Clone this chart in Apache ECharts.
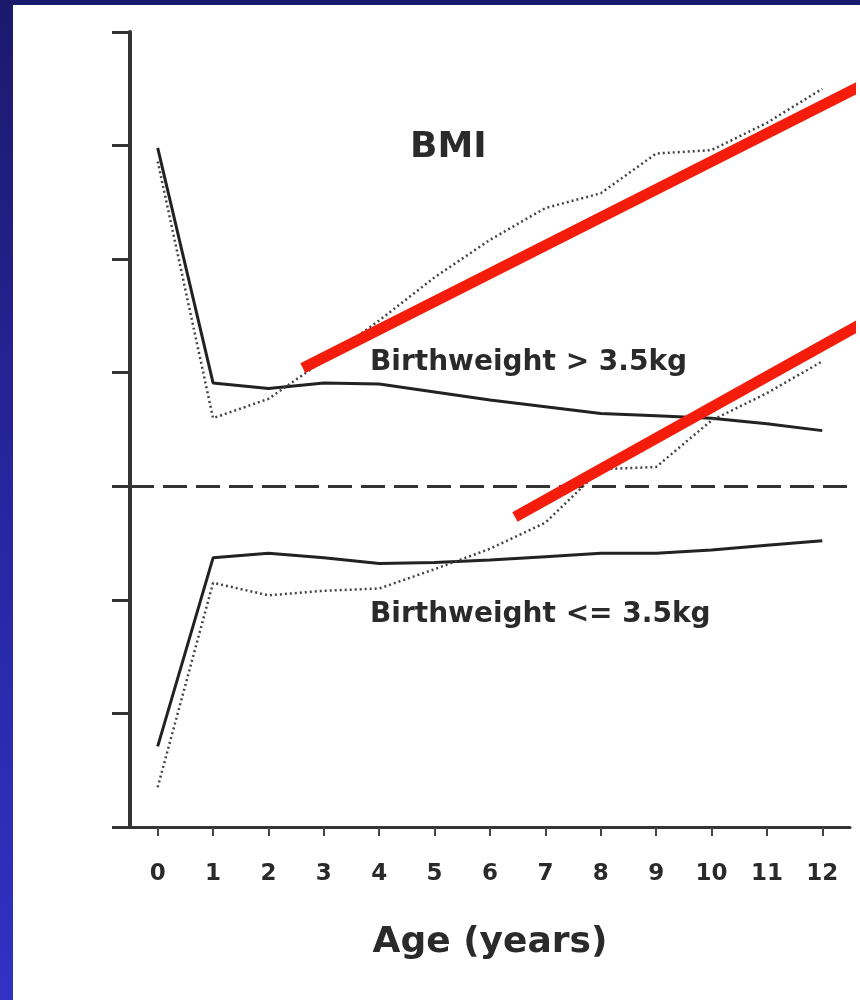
<!DOCTYPE html>
<html>
<head>
<meta charset="utf-8">
<script src="https://cdn.jsdelivr.net/npm/echarts@6/dist/echarts.min.js"></script>
<style>
  html, body { margin: 0; padding: 0; width: 860px; height: 1000px; overflow: hidden;
    background: linear-gradient(to bottom, #1b196c 0%, #2626a0 50%, #3131c4 100%); }
  #sheet { position: absolute; left: 13px; top: 5px; right: 0; bottom: 0; background: #ffffff; }
  #chart { position: absolute; left: 0; top: 0; width: 860px; height: 1000px; }
</style>
</head>
<body>
<div id="sheet"></div>
<div id="chart"></div>
<script>
// Age in years (x) and BMI z-score style values (y)
const ages = [0, 1, 2, 3, 4, 5, 6, 7, 8, 9, 10, 11, 12];
const ageTicks = [0, 1, 2, 3, 4, 5, 6, 7, 8, 9, 10, 11, 12];

// Birthweight > 3.5kg
const heavySolid  = [2.98, 0.91, 0.86, 0.91, 0.90, 0.83, 0.76, 0.70, 0.64, 0.62, 0.60, 0.55, 0.49];
const heavyDotted = [2.86, 0.60, 0.77, 1.11, 1.46, 1.84, 2.17, 2.45, 2.58, 2.93, 2.96, 3.20, 3.50];

// Birthweight <= 3.5kg
const lightSolid  = [-2.29, -0.63, -0.59, -0.63, -0.68, -0.67, -0.65, -0.62, -0.59, -0.59, -0.56, -0.52, -0.48];
const lightDotted = [-2.65, -0.85, -0.96, -0.92, -0.90, -0.73, -0.55, -0.32, 0.15, 0.17, 0.58, 0.82, 1.10];

// Red trend strokes drawn over the dotted curves (run off the right edge)
const trendUpper = [[2.62, 1.04], [13.0, 3.60]];
const trendLower = [[6.45, -0.27], [13.0, 1.51]];

const FONT = '"DejaVu Sans", "Liberation Sans", sans-serif';
const INK = '#2a2a2a';

const pairs = (vals) => ages.map((a, i) => [a, vals[i]]);

const chart = echarts.init(document.getElementById('chart'), null, { renderer: 'canvas' });

chart.setOption({
  animation: false,
  backgroundColor: 'transparent',
  grid: { left: 130, right: 10, top: 32, bottom: 173, containLabel: false },
  xAxis: {
    type: 'value',
    min: -0.5,
    max: 12.5,
    name: 'Age (years)',
    nameLocation: 'middle',
    nameGap: 98,
    nameTextStyle: { fontFamily: FONT, fontWeight: 'bold', fontSize: 36, color: INK },
    axisLine: { show: true, onZero: false, lineStyle: { color: '#333', width: 3 } },
    axisTick: { show: true, inside: false, length: 9, customValues: ageTicks,
      lineStyle: { color: '#444', width: 2 } },
    axisLabel: { show: true, customValues: ageTicks, margin: 36,
      fontFamily: FONT, fontWeight: 'bold', fontSize: 23, color: INK },
    splitLine: { show: false }
  },
  yAxis: {
    type: 'value',
    min: -3,
    max: 4,
    interval: 1,
    axisLine: { show: true, onZero: false, lineStyle: { color: '#333', width: 4 } },
    axisTick: { show: true, inside: false, length: 18, lineStyle: { color: '#333', width: 3 } },
    axisLabel: { show: false },
    splitLine: { show: false }
  },
  graphic: [
    { type: 'text', x: 410, y: 148, z: 10,
      style: { text: 'BMI', font: 'bold 36px ' + FONT, fill: INK, align: 'left', verticalAlign: 'middle' } },
    { type: 'text', x: 370, y: 363, z: 10,
      style: { text: 'Birthweight > 3.5kg', font: 'bold 28px ' + FONT, fill: INK, align: 'left', verticalAlign: 'middle' } },
    { type: 'text', x: 370, y: 615, z: 10,
      style: { text: 'Birthweight <= 3.5kg', font: 'bold 28px ' + FONT, fill: INK, align: 'left', verticalAlign: 'middle' } }
  ],
  series: [
    {
      name: 'Birthweight > 3.5kg', type: 'line', data: pairs(heavySolid),
      symbol: 'none', lineStyle: { color: '#222', width: 3 }, z: 3,
      markLine: {
        silent: true, symbol: ['none', 'none'], label: { show: false },
        lineStyle: { color: '#333', width: 3, type: [24, 9] },
        data: [{ yAxis: 0 }]
      }
    },
    {
      name: 'Birthweight > 3.5kg (dotted)', type: 'line', data: pairs(heavyDotted),
      symbol: 'none', lineStyle: { color: '#444', width: 2.5, type: [2, 3] }, z: 3
    },
    {
      name: 'Birthweight <= 3.5kg', type: 'line', data: pairs(lightSolid),
      symbol: 'none', lineStyle: { color: '#222', width: 3 }, z: 3
    },
    {
      name: 'Birthweight <= 3.5kg (dotted)', type: 'line', data: pairs(lightDotted),
      symbol: 'none', lineStyle: { color: '#444', width: 2.5, type: [2, 3] }, z: 3
    },
    {
      name: 'trend upper', type: 'line', data: trendUpper, clip: false,
      symbol: 'none', lineStyle: { color: '#f41d0b', width: 11, cap: 'butt' }, z: 6
    },
    {
      name: 'trend lower', type: 'line', data: trendLower, clip: false,
      symbol: 'none', lineStyle: { color: '#f41d0b', width: 11, cap: 'butt' }, z: 6
    }
  ]
});
</script>
</body>
</html>
